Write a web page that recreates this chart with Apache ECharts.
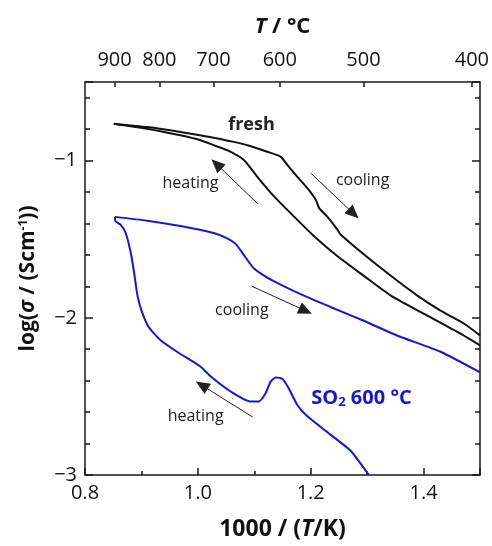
<!DOCTYPE html>
<html>
<head>
<meta charset="utf-8">
<script src="https://cdn.jsdelivr.net/npm/echarts@6/dist/echarts.min.js"></script>
<style>
  html, body { margin: 0; padding: 0; background: #fff; }
  #chart { width: 492px; height: 546px; }
</style>
</head>
<body>
<div id="chart"></div>
<script>
// 1000/(T/K) 与 log(sigma) 读数
var freshCooling = [
  [0.851, -0.765], [0.910, -0.787], [0.969, -0.818], [1.028, -0.854], [1.064, -0.881],
  [1.088, -0.902], [1.123, -0.944], [1.147, -0.976], [1.161, -1.039], [1.176, -1.102],
  [1.194, -1.175], [1.209, -1.249], [1.215, -1.302], [1.229, -1.355], [1.247, -1.438],
  [1.253, -1.470], [1.294, -1.596], [1.342, -1.733], [1.389, -1.859], [1.430, -1.954],
  [1.472, -2.038], [1.500, -2.112]
];
var freshHeating = [
  [0.851, -0.765], [0.910, -0.797], [0.969, -0.839], [1.005, -0.871], [1.028, -0.902],
  [1.052, -0.934], [1.082, -0.997], [1.105, -1.102], [1.135, -1.228], [1.170, -1.355],
  [1.206, -1.481], [1.247, -1.607], [1.294, -1.733], [1.342, -1.859], [1.401, -1.975],
  [1.460, -2.090], [1.500, -2.175]
];
var so2Cooling = [
  [0.853, -1.358], [0.910, -1.382], [0.969, -1.416], [1.028, -1.461], [1.052, -1.495],
  [1.067, -1.530], [1.082, -1.603], [1.099, -1.685], [1.123, -1.744], [1.152, -1.798],
  [1.182, -1.849], [1.235, -1.931], [1.294, -2.019], [1.354, -2.114], [1.430, -2.216],
  [1.500, -2.347]
];
var so2Heating = [
  [0.853, -1.358], [0.854, -1.386], [0.863, -1.407], [0.872, -1.459], [0.881, -1.585],
  [0.887, -1.712], [0.893, -1.859], [0.901, -1.964], [0.913, -2.059], [0.934, -2.143],
  [0.963, -2.216], [1.005, -2.311], [1.023, -2.374], [1.058, -2.469], [1.093, -2.532],
  [1.108, -2.532], [1.120, -2.480], [1.129, -2.406], [1.138, -2.380], [1.150, -2.389],
  [1.161, -2.448], [1.176, -2.553], [1.194, -2.627], [1.235, -2.743], [1.271, -2.847],
  [1.303, -3.000]
];

// 刻度标签
var xLabels = [0.8, 1.0, 1.2, 1.4];
var yLabels = [-3, -2, -1];
var tempLabels = [900, 800, 700, 600, 500, 400];
var tempTicks = tempLabels.map(function (t) { return 1000 / (t + 273.15); });

// 箭头 [起点, 终点] 与文字注释
var arrows = [
  [[1.106, -1.274], [1.033, -1.022]],
  [[1.200, -1.079], [1.276, -1.338]],
  [[1.095, -1.798], [1.191, -1.956]],
  [[1.097, -2.631], [1.007, -2.429]]
];
var notes = [
  { text: "fresh", coord: [1.095, -0.770], bold: true },
  { text: "heating", coord: [0.987, -1.148] },
  { text: "cooling", coord: [1.292, -1.129] },
  { text: "cooling", coord: [1.078, -1.950] },
  { text: "heating", coord: [0.996, -2.625] },
  { text: "{a|SO}{s|2}{a| 600 °C}", coord: [1.290, -2.511], blue: true }
];

var FONT = "Open Sans";
var BLUE = "#1717d0";
var AXIS = "#1a1a1a";

var chart = echarts.init(document.getElementById("chart"));

var axisLine = { show: true, onZero: false, lineStyle: { color: AXIS, width: 1.5 } };

var option = {
  animation: false,
  grid: { left: 85, right: 12, top: 82, bottom: 69 },
  xAxis: [
    {
      type: "value",
      position: "bottom",
      min: 0.8,
      max: 1.5,
      interval: 0.2,
      axisLine: axisLine,
      axisTick: { inside: true, length: 7, lineStyle: { color: AXIS, width: 1.5 } },
      minorTick: { show: true, splitNumber: 2, length: 4, lineStyle: { color: AXIS, width: 1.5 } },
      splitLine: { show: false },
      axisLabel: {
        customValues: xLabels,
        margin: 8,
        color: "#111",
        fontFamily: FONT,
        fontSize: 20,
        formatter: function (v) { return v.toFixed(1); }
      },
      name: "{b|1000 / (}{i|T}{b|/K)}",
      nameLocation: "middle",
      nameGap: 43,
      nameTextStyle: {
        rich: {
          b: { fontFamily: FONT, fontWeight: "bold", fontSize: 23, color: "#111" },
          i: { fontFamily: FONT, fontWeight: "bold", fontStyle: "italic", fontSize: 23, color: "#111" }
        }
      }
    },
    {
      type: "value",
      position: "top",
      min: 0.8,
      max: 1.5,
      axisLine: axisLine,
      axisTick: { customValues: tempTicks, inside: true, length: 5, lineStyle: { color: AXIS, width: 1.5 } },
      splitLine: { show: false },
      axisLabel: {
        customValues: tempTicks,
        margin: 12,
        color: "#111",
        fontFamily: FONT,
        fontSize: 20,
        formatter: function (v) {
          for (var i = 0; i < tempTicks.length; i++) {
            if (Math.abs(tempTicks[i] - v) < 1e-6) return String(tempLabels[i]);
          }
          return "";
        }
      },
      name: "{i|T}{b| / °C}",
      nameLocation: "middle",
      nameGap: 44,
      nameTextStyle: {
        rich: {
          b: { fontFamily: FONT, fontWeight: "bold", fontSize: 22, color: "#111" },
          i: { fontFamily: FONT, fontWeight: "bold", fontStyle: "italic", fontSize: 22, color: "#111" }
        }
      }
    }
  ],
  yAxis: [
    {
      type: "value",
      position: "left",
      min: -3,
      max: -0.5,
      interval: 1,
      axisLine: axisLine,
      axisTick: { inside: true, length: 8, lineStyle: { color: AXIS, width: 1.5 } },
      minorTick: { show: true, splitNumber: 5, length: 5, lineStyle: { color: AXIS, width: 1.5 } },
      splitLine: { show: false },
      axisLabel: {
        customValues: yLabels,
        margin: 8,
        color: "#111",
        fontFamily: FONT,
        fontSize: 20,
        formatter: function (v) { return "\u2212" + Math.abs(v); }
      },
      name: "{b|log(}{i|σ}{b| / (Scm}{s|-1}{b|))}",
      nameLocation: "middle",
      nameRotate: 90,
      nameGap: 46,
      nameTextStyle: {
        rich: {
          b: { fontFamily: FONT, fontWeight: "bold", fontSize: 21, color: "#111" },
          i: { fontFamily: FONT, fontWeight: "bold", fontStyle: "italic", fontSize: 21, color: "#111" },
          s: { fontFamily: FONT, fontWeight: "bold", fontSize: 12, color: "#111", verticalAlign: "top" }
        }
      }
    },
    {
      type: "value",
      position: "right",
      min: -3,
      max: -0.5,
      interval: 1,
      axisLine: axisLine,
      axisTick: { inside: true, length: 8, lineStyle: { color: AXIS, width: 1.5 } },
      minorTick: { show: true, splitNumber: 5, length: 5, lineStyle: { color: AXIS, width: 1.5 } },
      splitLine: { show: false },
      axisLabel: { show: false }
    }
  ],
  series: [
    {
      name: "fresh cooling",
      type: "line",
      data: freshCooling,
      showSymbol: false,
      smooth: 0.2,
      lineStyle: { color: "#111", width: 2 },
      markPoint: {
        silent: true,
        symbol: "circle",
        symbolSize: 0,
        data: notes.map(function (n) {
          return {
            coord: n.coord,
            label: {
              show: true,
              position: "inside",
              formatter: n.text,
              fontFamily: FONT,
              fontSize: n.blue ? 20 : (n.bold ? 18 : 16),
              fontWeight: n.bold || n.blue ? "bold" : "normal",
              color: n.blue ? BLUE : "#222",
              rich: {
                a: { fontFamily: FONT, fontSize: 20, fontWeight: "bold", color: BLUE },
                s: { fontFamily: FONT, fontSize: 13, fontWeight: "bold", color: BLUE, verticalAlign: "bottom", padding: [8, 0, 0, 0] }
              }
            }
          };
        })
      },
      markLine: {
        silent: true,
        symbol: ["none", "triangle"],
        symbolSize: [12, 14],
        symbolKeepAspect: false,
        label: { show: false },
        itemStyle: { color: "#111" },
        lineStyle: { color: "#222", width: 1, type: "solid" },
        data: arrows.map(function (a) {
          return [{ coord: a[0] }, { coord: a[1] }];
        })
      }
    },
    {
      name: "fresh heating",
      type: "line",
      data: freshHeating,
      showSymbol: false,
      smooth: 0.2,
      lineStyle: { color: "#111", width: 2 }
    },
    {
      name: "SO2 cooling",
      type: "line",
      data: so2Cooling,
      showSymbol: false,
      smooth: 0.2,
      lineStyle: { color: BLUE, width: 2 }
    },
    {
      name: "SO2 heating",
      type: "line",
      data: so2Heating,
      showSymbol: false,
      smooth: 0.2,
      lineStyle: { color: BLUE, width: 2 }
    }
  ]
};

chart.setOption(option);
</script>
</body>
</html>
